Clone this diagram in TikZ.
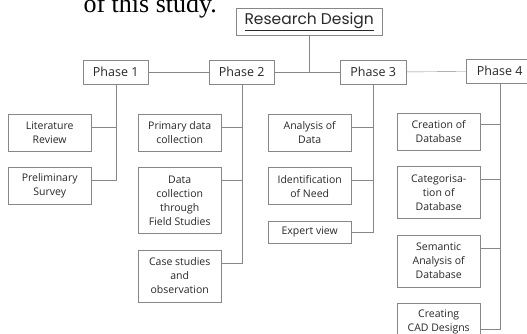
\documentclass[tikz,border=0pt]{standalone}
\usepackage{fontspec}
\setmainfont{Open Sans}
\newfontfamily\headfont{Poppins}
\newfontfamily\bodyserif{Liberation Serif}
\usetikzlibrary{positioning}
\definecolor{boxline}{RGB}{135,135,135}
\definecolor{boxtext}{RGB}{40,40,40}
\tikzset{
    x=1pt, y=-1pt, line width=0.6pt, node distance=16pt, % one unit is one pixel of the scan
    box/.style = {draw=boxline, fill=white, text=boxtext, align=center, anchor=north west, inner sep=0pt, minimum width=83pt, font=\fontsize{10.5}{14}\selectfont}, % the sub-steps under each phase
    phase/.style = {box, minimum width=65pt, minimum height=24pt, font=\fontsize{12.5}{14}\selectfont},
    link/.style = {draw=boxline}
}
\begin{document}
\begin{tikzpicture}
    \useasboundingbox (0,0) rectangle (527,333);
    \clip (0,0) rectangle (527,333);
    \node[anchor=base west, font=\bodyserif\fontsize{26}{28}\selectfont] (study) at (80,12) {of this study.};
    \node[box, minimum width=146pt, minimum height=27pt, font=\headfont\fontsize{15.5}{16}\selectfont] (rd) at (236,8) {\underline{Research Design}};
    % phases
    \node[phase] (p1) at (83,60) {Phase 1};
    \node[phase] (p2) at (209,60) {Phase 2};
    \node[phase, minimum width=66pt] (p3) at (340,60) {Phase 3};
    \node[phase, minimum width=67pt] (p4) at (466,59) {Phase 4};
    % phase 1
    \node[box, minimum height=37pt] (lit) at (8,114) {Literature\\Review};
    \node[box, minimum height=37pt] (prelim) [below=of lit] {Preliminary\\Survey};
    % phase 2
    \node[box, minimum height=37pt] (primary) at (138,114) {Primary data\\collection};
    \node[box, minimum height=66pt] (field) [below=of primary] {Data\\collection\\through\\Field Studies};
    \node[box, minimum height=52pt] (cases) [below=of field] {Case studies\\and\\observation};
    % phase 3
    \node[box, minimum height=37pt] (analysis) at (268,114) {Analysis of\\Data};
    \node[box, minimum height=37pt] (need) [below=of analysis] {Identification\\of Need};
    \node[box, minimum height=22pt] (expert) [below=of need] {Expert view};
    % phase 4
    \node[box, minimum height=37pt] (creation) at (397,113) {Creation of\\Database};
    \node[box, minimum height=52pt] (categ) [below=of creation] {Categorisa-\\tion of\\Database};
    \node[box, minimum height=52pt] (semantic) [below=of categ] {Semantic\\Analysis of\\Database};
    \node[box, minimum height=52pt] (cad) [below=of semantic] {Creating\\CAD Designs\\\strut};
    % connectors
    \draw[link] (rd) -- (rd |- p2);
    \draw[link] (p1) -- (p2);
    \draw[link] (p2) -- (p3);
    \draw[link] (p3) -- (p4);
    \foreach \kid/\ph in {lit/p1, prelim/p1, primary/p2, field/p2, cases/p2, analysis/p3, need/p3, categ/p4, semantic/p4}
        \draw[link] ([yshift=-13pt]\kid.north east) -| (\ph.south);
    \draw[link] (expert.east) -| (p3.south);
    \draw[link] ([yshift=-11pt]creation.north east) -| (p4.south);
    \draw[link] ([yshift=-26pt]cad.north east) -| (p4.south);
\end{tikzpicture}
\end{document}
